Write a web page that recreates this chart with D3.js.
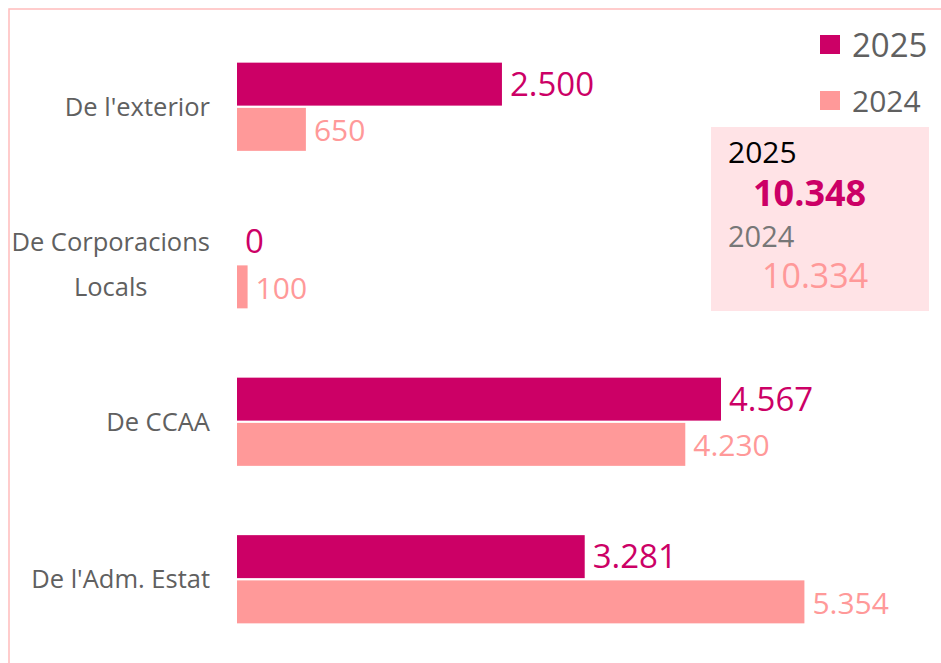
<!DOCTYPE html>
<meta charset="utf-8">
<style>
body { margin: 0; background: #fff; }
text { font-family: "Open Sans", "Noto Sans", sans-serif; }
.cat-label { fill: #606060; font-size: 25.5px; }
.val-label { font-size: 33px; }
.legend-label { fill: #606060; }
</style>
<body>
<script src="https://cdnjs.cloudflare.com/ajax/libs/d3/7.8.5/d3.min.js"></script>
<script>
var w = 941, h = 663;

// data
var categories = ["De l'exterior", "De Corporacions Locals", "De CCAA", "De l'Adm. Estat"];
var catLines = [["De l'exterior"], ["De Corporacions", "Locals"], ["De CCAA"], ["De l'Adm. Estat"]];
var years = ["2025", "2024"];
var values2025 = [2500, 0, 4567, 3281];
var values2024 = [650, 100, 4230, 5354];
var colors = ["#cc0066", "#ff9999"];

var series = [values2025, values2024];
var fmt = d3.formatLocale({decimal: ",", thousands: ".", grouping: [3], currency: ["", ""]}).format(",d");

var svg = d3.select("body").append("svg")
    .attr("width", w)
    .attr("height", h);

// outer border
svg.append("rect")
    .attr("x", 9).attr("y", 9)
    .attr("width", w + 20).attr("height", h + 20)
    .attr("fill", "none")
    .attr("stroke", "#ffbcbc")
    .attr("stroke-width", 1.5);

var x = d3.scaleLinear().domain([0, 4567]).range([237, 721]);

var y = d3.scaleBand()
    .domain(categories)
    .range([28, 658])
    .paddingInner(0.44)
    .paddingOuter(0.22);

var ySub = d3.scaleBand()
    .domain(years)
    .range([0, y.bandwidth()])
    .paddingInner(0.05);

var color = d3.scaleOrdinal().domain(years).range(colors);

var rows = categories.map(function(c, i) {
    return {cat: c, lines: catLines[i], vals: years.map(function(yr, j) { return {year: yr, value: series[j][i]}; })};
});

var groups = svg.append("g").selectAll("g")
    .data(rows)
    .enter().append("g")
    .attr("transform", function(d) { return "translate(0," + y(d.cat) + ")"; });

groups.selectAll("rect")
    .data(function(d) { return d.vals; })
    .enter().append("rect")
    .attr("x", x(0))
    .attr("y", function(d) { return ySub(d.year); })
    .attr("width", function(d) { return x(d.value) - x(0); })
    .attr("height", ySub.bandwidth())
    .attr("fill", function(d) { return color(d.year); });

groups.selectAll(".val-label")
    .data(function(d) { return d.vals; })
    .enter().append("text")
    .attr("class", "val-label")
    .attr("x", function(d) { return x(d.value) + 8; })
    .attr("y", function(d) { return ySub(d.year) + ySub.bandwidth() / 2; })
    .attr("dy", function(d) { return d.year == "2025" ? "0.35em" : "0.4em"; })
    .style("font-size", function(d) { return d.year == "2025" ? "33px" : "30px"; })
    .attr("fill", function(d) { return color(d.year); })
    .text(function(d) { return fmt(d.value); });

// category labels
groups.each(function(d) {
    var g = d3.select(this);
    var t = g.append("text")
        .attr("class", "cat-label")
        .attr("y", y.bandwidth() / 2 - (d.lines.length - 1) * 22.5);
    d.lines.forEach(function(l, i) {
        t.append("tspan").attr("x", 0).attr("dy", i == 0 ? "0.35em" : 45).text(l);
    });
    var maxw = 0;
    t.selectAll("tspan").each(function() { maxw = Math.max(maxw, this.getComputedTextLength()); });
    if (d.lines.length > 1) {
        t.attr("text-anchor", "middle").selectAll("tspan").attr("x", 210 - maxw / 2);
    } else {
        t.attr("text-anchor", "end").selectAll("tspan").attr("x", 210);
    }
});

// legend
var legend = svg.append("g").selectAll("g")
    .data(years)
    .enter().append("g")
    .attr("transform", function(d, i) { return "translate(820," + (35 + i * 56) + ")"; });

legend.append("rect")
    .attr("width", 20).attr("height", 19)
    .attr("fill", function(d) { return color(d); });

legend.append("text")
    .attr("class", "legend-label")
    .attr("x", 32).attr("y", 10).attr("dy", "0.36em")
    .style("font-size", function(d, i) { return i == 0 ? "33px" : "30px"; })
    .text(function(d) { return d; });

// totals card
var totals = series.map(function(s) { return d3.sum(s); });
var card = svg.append("g").attr("transform", "translate(711,127)");
card.append("rect").attr("width", 218).attr("height", 184).attr("fill", "#ffe3e6");
card.append("text").attr("x", 17).attr("y", 36).attr("fill", "#000").style("font-size", "30px").text(years[0]);
card.append("text").attr("x", 42).attr("y", 79).attr("fill", colors[0]).style("font-size", "36px").style("font-weight", "bold").text(fmt(totals[0]));
card.append("text").attr("x", 17).attr("y", 120).attr("fill", "#777").style("font-size", "29px").text(years[1]);
card.append("text").attr("x", 51).attr("y", 161).attr("fill", colors[1]).style("font-size", "34px").text(fmt(totals[1]));
</script>
</body>
